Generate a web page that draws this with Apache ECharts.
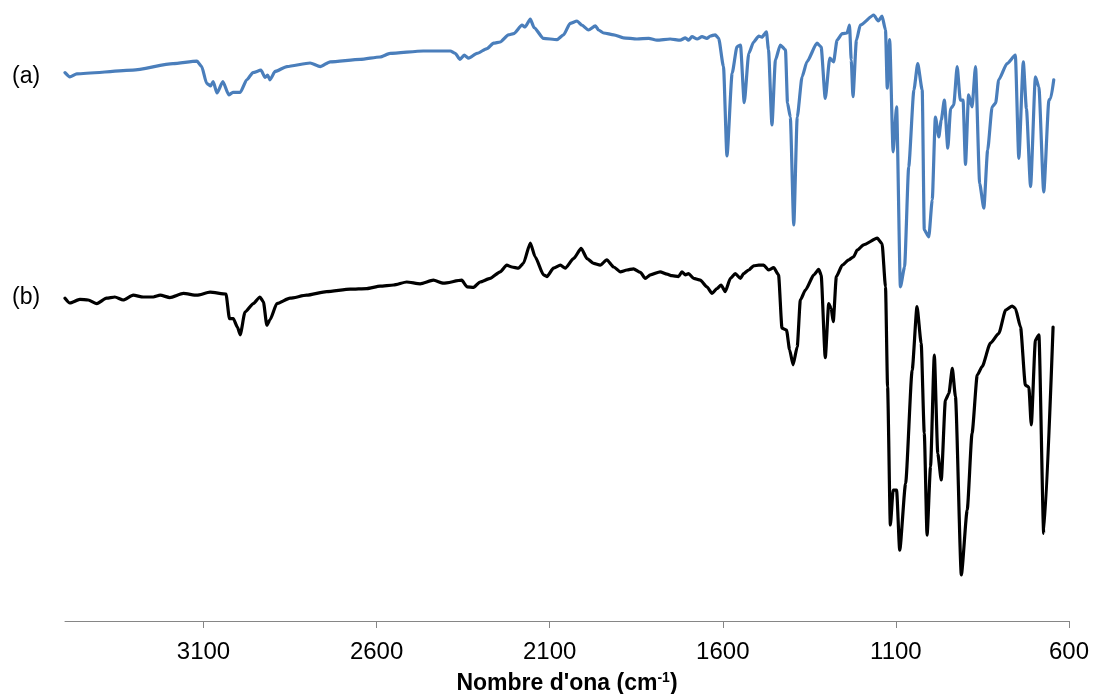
<!DOCTYPE html>
<html>
<head>
<meta charset="utf-8">
<script src="https://cdn.jsdelivr.net/npm/echarts@6/dist/echarts.min.js"></script>
<style>
html,body{margin:0;padding:0;background:#fff;}
#chart{width:1093px;height:694px;}
</style>
</head>
<body>
<div id="chart"></div>
<script>
// Wavenumbers (cm-1) and relative transmittance, spectrum (a)
var waveA = [3500,3486,3466,3304,3188,3119,3105,3091,3079,3072,
  3061,3044,3027,3015,2994,2975,2957,2934,2922,2915,
  2908,2893,2859,2792,2763,2734,2647,2590,2561,2465,
  2387,2373,2359,2347,2334,2310,2281,2262,2243,2219,
  2204,2180,2171,2156,2145,2118,2079,2060,2041,2021,
  2007,1988,1968,1959,1944,1915,1887,1848,1814,1790,
  1752,1723,1708,1699,1689,1674,1660,1646,1636,1622,
  1612,1598,1588,1573,1559,1549,1538,1525,1511,1496,
  1487,1474,1468,1458,1448,1434,1419,1413,1405,1395,
  1385,1371,1357,1328,1316,1304,1291,1280,1270,1255,
  1241,1234,1229,1224,1214,1203,1164,1151,1140,1130,
  1125,1118,1108,1098,1087,1075,1063,1048,1037,1024,
  1018,1005,995,986,976,969,960,950,942,933,
  923,914,906,899,890,880,870,858,846,835,
  822,812,803,779,755,745,732,723,711,697,
  687,673,658,653,644];
var transA = [91.4,90.7,91.2,91.8,92.9,93.3,92.4,89.6,89.2,89.9,
  88.0,89.9,87.7,88.1,88.1,90.2,91.4,91.8,90.6,91.0,
  90.2,91.6,92.4,93.0,92.4,93.2,93.6,94.0,94.6,95.0,
  95.0,94.6,93.6,94.3,93.8,94.6,95.4,96.3,96.5,97.7,
  97.9,99.3,99.0,100.3,98.9,97.1,96.9,97.7,99.6,100.0,
  99.3,98.5,99.2,98.5,98.0,97.7,97.2,97.0,97.1,96.8,
  97.0,96.8,97.2,96.8,97.4,97.0,97.4,97.1,97.5,97.7,
  97.1,92.4,77.5,91.3,95.7,96.0,86.4,94.6,96.5,97.5,
  97.3,98.2,95.2,82.7,93.5,96.0,95.2,86.3,84.0,66.0,
  84.0,90.7,93.2,96.3,95.7,87.1,93.8,93.2,96.8,97.9,
  98.0,99.3,93.5,87.4,96.8,99.3,101.0,100.0,100.8,98.5,
  88.8,96.9,78.2,85.7,55.7,59.0,75.7,88.5,92.9,88.5,
  65.2,64.0,70.2,84.0,80.7,83.5,86.8,78.8,85.4,86.0,
  92.4,86.8,86.8,76.1,87.7,85.7,92.4,72.9,68.8,78.5,
  85.7,86.3,90.2,92.9,94.3,77.1,93.2,85.4,72.4,90.7,
  89.0,71.5,86.8,87.1,90.2];

// Spectrum (b)
var waveB = [3500,3486,3457,3433,3408,3380,3356,3332,3303,3274,
  3245,3225,3197,3158,3119,3081,3035,3025,3014,3002,
  2994,2980,2956,2937,2927,2917,2908,2888,2850,2802,
  2744,2676,2628,2590,2551,2513,2474,2436,2407,2354,
  2339,2320,2301,2272,2243,2224,2209,2190,2176,2156,
  2142,2118,2108,2089,2069,2055,2031,2009,1992,1973,
  1954,1935,1915,1896,1877,1858,1838,1824,1809,1781,
  1761,1747,1728,1718,1708,1699,1684,1665,1646,1631,
  1617,1605,1593,1578,1564,1549,1540,1525,1511,1496,
  1482,1468,1453,1439,1429,1416,1407,1397,1385,1376,
  1361,1337,1323,1316,1304,1294,1287,1281,1272,1255,
  1236,1222,1212,1193,1154,1140,1130,1124,1116,1108,
  1098,1089,1072,1053,1039,1027,1018,1010,1000,989,
  979,969,957,947,937,928,911,894,880,865,
  851,827,803,783,764,755,740,726,716,709,
  697,687,673,646];
var transB = [53.8,53.0,53.6,53.5,52.9,53.8,54.0,53.5,54.3,54.0,
  54.0,54.3,53.9,54.6,54.3,54.8,54.5,50.4,50.4,49.0,
  47.7,51.5,52.9,54.0,53.2,49.3,50.2,52.9,53.8,54.3,
  54.9,55.3,55.4,55.8,56.0,56.5,56.2,56.8,56.3,56.8,
  55.7,55.6,56.5,57.1,58.2,59.3,59.0,58.8,59.6,63.0,
  60.7,57.7,57.4,58.8,59.3,58.8,60.4,62.1,60.4,59.6,
  59.3,60.2,59.0,58.2,58.5,58.7,58.1,57.1,57.7,58.2,
  57.8,57.55,57.4,58.2,57.7,57.9,57.1,56.8,55.7,54.6,
  55.4,56.0,54.9,57.1,57.9,57.1,57.9,58.5,59.2,59.3,
  59.3,58.5,58.9,57.7,48.8,48.5,45.2,42.7,45.7,53.5,
  55.2,57.7,58.6,57.7,43.9,52.9,52.1,49.9,57.4,59.3,
  60.2,60.7,61.8,62.7,63.8,62.9,55.7,39.0,16.0,21.8,
  21.8,11.8,22.9,41.8,52.4,46.3,31.3,14.3,25.7,44.3,
  27.9,23.5,36.8,37.9,42.1,37.4,7.7,18.5,31.3,41.0,
  42.4,46.3,47.9,51.8,52.5,52.1,49.0,39.3,39.0,32.7,
  46.8,47.7,14.6,49.0];

var tickValues = [3100, 2600, 2100, 1600, 1100, 600];
var seriesLabels = ['(a)', '(b)'];

function pairs(xs, ys) {
  var out = [];
  for (var i = 0; i < Math.min(xs.length, ys.length); i++) out.push([xs[i], ys[i]]);
  return out;
}

var chart = echarts.init(document.getElementById('chart'), null, {renderer: 'canvas'});
chart.setOption({
  animation: false,
  backgroundColor: '#ffffff',
  grid: {left: 65, right: 24, top: 21, bottom: 73, containLabel: false, outerBoundsMode: 'none'},
  xAxis: {
    type: 'value',
    min: 600,
    max: 3500,
    inverse: true,
    name: "{a|Nombre d'ona (cm}{s|-1}{a|)}",
    nameLocation: 'middle',
    nameGap: 50,
    nameTextStyle: {
      rich: {
        a: {fontFamily: 'Liberation Sans, Arial, sans-serif', fontSize: 23, fontWeight: 'bold', color: '#000', lineHeight: 26},
        s: {fontFamily: 'Liberation Sans, Arial, sans-serif', fontSize: 14, fontWeight: 'bold', color: '#000', verticalAlign: 'top', lineHeight: 26, padding: [0, 0, 8, 0]}
      }
    },
    axisLine: {show: true, lineStyle: {color: '#868686', width: 1}},
    axisTick: {show: true, length: 7, lineStyle: {color: '#868686'}, customValues: tickValues},
    axisLabel: {
      customValues: tickValues,
      formatter: function (v) { return String(v); },
      fontFamily: 'Liberation Sans, Arial, sans-serif',
      fontSize: 24,
      color: '#000',
      margin: 19
    },
    splitLine: {show: false}
  },
  yAxis: {
    type: 'value',
    min: 0,
    max: 100,
    show: false,
    splitLine: {show: false}
  },
  graphic: [
    {type: 'text', left: 12, top: 65, style: {text: seriesLabels[0], font: '23px "Liberation Sans", Arial, sans-serif', fill: '#000'}},
    {type: 'text', left: 12, top: 286, style: {text: seriesLabels[1], font: '23px "Liberation Sans", Arial, sans-serif', fill: '#000'}}
  ],
  series: [
    {
      name: seriesLabels[0],
      type: 'line',
      data: pairs(waveA, transA),
      showSymbol: false,
      symbol: 'none',
      clip: false,
      smooth: 0.2,
      smoothMonotone: 'x',
      lineStyle: {color: '#4a7ebb', width: 3.2, join: 'round', cap: 'round'},
      itemStyle: {color: '#4a7ebb'}
    },
    {
      name: seriesLabels[1],
      type: 'line',
      data: pairs(waveB, transB),
      showSymbol: false,
      symbol: 'none',
      clip: false,
      smooth: 0.2,
      smoothMonotone: 'x',
      lineStyle: {color: '#000000', width: 3.2, join: 'round', cap: 'round'},
      itemStyle: {color: '#000000'}
    }
  ]
});
</script>
</body>
</html>
